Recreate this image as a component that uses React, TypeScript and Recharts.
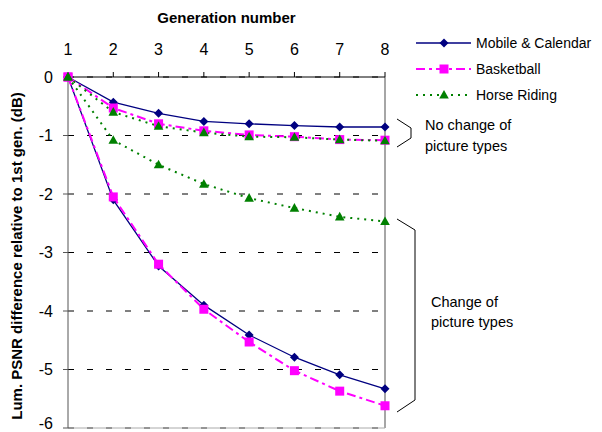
import React from 'react';
import {
  LineChart,
  Line,
  XAxis,
  YAxis,
  CartesianGrid,
  ReferenceLine
} from 'recharts';

const generations = [1, 2, 3, 4, 5, 6, 7, 8];
const yTicks = [0, -1, -2, -3, -4, -5, -6];

// no change of picture types
const mobileSame = [0, -0.43, -0.62, -0.76, -0.8, -0.83, -0.855, -0.855];
const basketSame = [0, -0.53, -0.8, -0.92, -0.99, -1.02, -1.07, -1.08];
const horseSame = [0, -0.6, -0.84, -0.95, -1.02, -1.03, -1.07, -1.09];

// change of picture types
const mobileChange = [0, -2.1, -3.23, -3.9, -4.41, -4.79, -5.09, -5.33];
const basketChange = [0, -2.05, -3.2, -3.97, -4.53, -5.02, -5.37, -5.62];
const horseChange = [0, -1.08, -1.5, -1.83, -2.07, -2.24, -2.39, -2.47];

const seriesNames = ['Mobile & Calendar', 'Basketball', 'Horse Riding'];

const data = generations.map((g, i) => ({
  gen: g,
  mobileSame: mobileSame[i],
  basketSame: basketSame[i],
  horseSame: horseSame[i],
  mobileChange: mobileChange[i],
  basketChange: basketChange[i],
  horseChange: horseChange[i]
}));

const styles = [
  { color: '#000080', dash: undefined, width: 1.3, shape: 'diamond' },
  { color: '#FF00FF', dash: '9 4 3 4', width: 2, shape: 'square' },
  { color: '#008000', dash: '2 5', width: 2, shape: 'triangle' }
];

const font = '"Liberation Sans", Arial, sans-serif';

const Marker = ({ cx, cy, shape, color }: any) => {
  if (cx == null || cy == null) return null;
  if (shape === 'diamond') {
    const r = 4.5;
    return (
      <path
        d={`M${cx},${cy - r}L${cx + r},${cy}L${cx},${cy + r}L${cx - r},${cy}Z`}
        fill={color}
      />
    );
  }
  if (shape === 'square') {
    return <rect x={cx - 4.5} y={cy - 4.5} width={9} height={9} fill={color} />;
  }
  return (
    <path
      d={`M${cx},${cy - 5}L${cx + 4.8},${cy + 3.6}L${cx - 4.8},${cy + 3.6}Z`}
      fill={color}
    />
  );
};

const makeDot = (shape: string, color: string) => (props: any) => (
  <Marker key={`d-${props.index}`} cx={props.cx} cy={props.cy} shape={shape} color={color} />
);

const keys = [
  ['mobileSame', 'mobileChange'],
  ['basketSame', 'basketChange'],
  ['horseSame', 'horseChange']
];

const App = () => (
  <div style={{ position: 'absolute', left: 0, top: 0, width: 602, height: 432, background: '#fff' }}>
    <LineChart
      width={602}
      height={432}
      data={data}
      margin={{ top: 47, right: 217, bottom: 4, left: 8 }}
    >
      <CartesianGrid
        vertical={false}
        stroke="#000"
        strokeDasharray="6 13"
      />
      <XAxis
        dataKey="gen"
        type="number"
        orientation="top"
        domain={[1, 8]}
        ticks={generations}
        height={30}
        stroke="#000"
        tickSize={5}
        tickMargin={17}
        tick={{ fill: '#000', fontSize: 16, fontFamily: font }}
      />
      <YAxis
        type="number"
        domain={[-6, 0]}
        ticks={yTicks}
        width={60}
        stroke="#555"
        tickSize={5}
        tickMargin={10}
        tick={{ fill: '#000', fontSize: 16, fontFamily: font }}
      />
      <ReferenceLine x={8} stroke="#888" strokeWidth={1.5} />
      <ReferenceLine y={-6} stroke="#aaa" strokeWidth={1} />
      {styles.map((s, si) =>
        keys[si].map((k) => (
          <Line
            key={k}
            dataKey={k}
            type="linear"
            name={seriesNames[si]}
            stroke={s.color}
            strokeWidth={s.width}
            strokeDasharray={s.dash}
            dot={makeDot(s.shape, s.color)}
            activeDot={false}
            isAnimationActive={false}
          />
        ))
      )}
    </LineChart>
    <svg
      width={602}
      height={432}
      style={{ position: 'absolute', left: 0, top: 0, pointerEvents: 'none' }}
      fontFamily={font}
    >
      <text x={226.5} y={23} textAnchor="middle" fontSize={15} fontWeight="bold">
        Generation number
      </text>
      <text
        transform="translate(22,256) rotate(-90)"
        textAnchor="middle"
        fontSize={15}
        fontWeight="bold"
      >
        Lum. PSNR difference relative to 1st gen. (dB)
      </text>
      {seriesNames.map((name, i) => {
        const y = 43 + i * 26;
        const s = styles[i];
        return (
          <g key={name}>
            <line
              x1={416}
              x2={471}
              y1={y}
              y2={y}
              stroke={s.color}
              strokeWidth={s.width}
              strokeDasharray={s.dash}
            />
            <Marker cx={444} cy={y} shape={s.shape} color={s.color} />
            <text x={476} y={y + 5} fontSize={14}>
              {name}
            </text>
          </g>
        );
      })}
      <polyline points="397,119 411,128 411,138 397,147" fill="none" stroke="#000" strokeWidth={1} />
      <text x={425} y={130} fontSize={14.5}>No change of</text>
      <text x={425} y={151} fontSize={14.5}>picture types</text>
      <polyline points="397,219 415,230 415,400 397,412" fill="none" stroke="#000" strokeWidth={1} />
      <text x={431} y={307} fontSize={14.5}>Change of</text>
      <text x={431} y={327} fontSize={14.5}>picture types</text>
    </svg>
  </div>
);

export default App;
